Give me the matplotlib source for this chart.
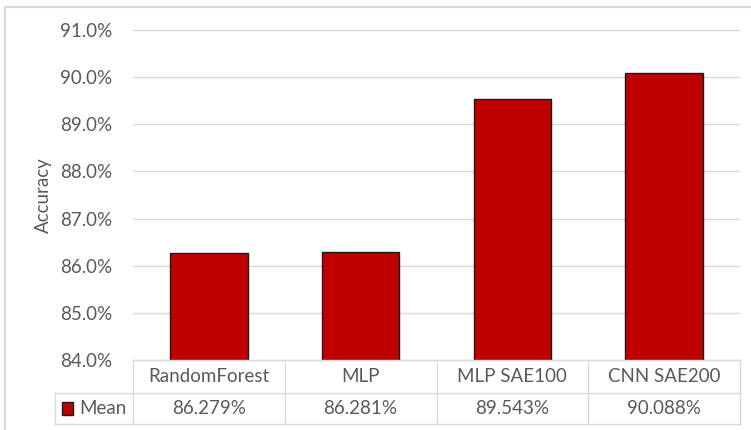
import matplotlib.pyplot as plt
from matplotlib.patches import Rectangle
from matplotlib.lines import Line2D

models = ["RandomForest", "MLP", "MLP SAE100", "CNN SAE200"]
mean_acc = [86.279, 86.281, 89.543, 90.088]
y_ticks = [84.0, 85.0, 86.0, 87.0, 88.0, 89.0, 90.0, 91.0]
series_name = "Mean"

W, H = 751, 430
text_color = "#595959"
grid_color = "#d9d9d9"
bar_color = "#c00000"
fs = 13.5

plt.rcParams["font.family"] = ["Lato", "DejaVu Sans"]

fig = plt.figure(figsize=(W / 100, H / 100), dpi=100)


def fx(px):
    return px / W


def fy(py):
    return 1 - py / H


# 外框
fig.add_artist(Rectangle((fx(5), fy(440)), fx(760) - fx(5), fy(7) - fy(440),
                         transform=fig.transFigure, fill=False,
                         edgecolor=grid_color, linewidth=1.5))

left, right, top, bottom = 133, 740, 30, 360
ax = fig.add_axes([fx(left), fy(bottom), fx(right) - fx(left), fy(top) - fy(bottom)])

x = range(len(models))
ax.bar(x, mean_acc, width=0.51, color=bar_color, edgecolor="#1a1a1a",
       linewidth=1.0, zorder=3)
ax.set_xlim(-0.5, len(models) - 0.5)
ax.set_ylim(y_ticks[0], y_ticks[-1])
ax.set_yticks(y_ticks)
ax.set_yticklabels([f"{v:.1f}%" for v in y_ticks], fontsize=fs, color=text_color)
ax.tick_params(axis="y", length=0, pad=15)
ax.set_xticks([])
ax.yaxis.grid(True, color=grid_color, linewidth=1.0, zorder=0)
for s in ax.spines.values():
    s.set_visible(False)
ax.set_ylabel("Accuracy", fontsize=fs, color=text_color, labelpad=6)

# 数据表
row1_top, row1_bot, row2_bot = 360, 393, 424
col_w = (right - left) / len(models)
col_edges = [left + i * col_w for i in range(len(models) + 1)]
lw = 1.0


def hline(x0, x1, y):
    fig.add_artist(Line2D([fx(x0), fx(x1)], [fy(y), fy(y)], color=grid_color,
                          linewidth=lw, transform=fig.transFigure))


def vline(xp, y0, y1):
    fig.add_artist(Line2D([fx(xp), fx(xp)], [fy(y0), fy(y1)], color=grid_color,
                          linewidth=lw, transform=fig.transFigure))


hline(left, right, row1_top)
hline(55, right, row1_bot)
hline(55, right, row2_bot)
vline(55, row1_bot, row2_bot)
for i, cx in enumerate(col_edges):
    vline(cx, row1_top, row2_bot)

for i, (m, v) in enumerate(zip(models, mean_acc)):
    cx = (col_edges[i] + col_edges[i + 1]) / 2
    fig.text(fx(cx), fy((row1_top + row1_bot) / 2), m, ha="center", va="center",
             fontsize=fs, color=text_color)
    fig.text(fx(cx), fy((row1_bot + row2_bot) / 2), f"{v:.3f}%", ha="center",
             va="center", fontsize=fs, color=text_color)

fig.add_artist(Rectangle((fx(62), fy(415)), fx(73) - fx(62), fy(402) - fy(415),
                         transform=fig.transFigure, facecolor=bar_color,
                         edgecolor="#1a1a1a", linewidth=1.0))
fig.text(fx(79), fy((row1_bot + row2_bot) / 2), series_name, ha="left", va="center",
         fontsize=fs, color=text_color)

fig.savefig("out.png", dpi=100)
